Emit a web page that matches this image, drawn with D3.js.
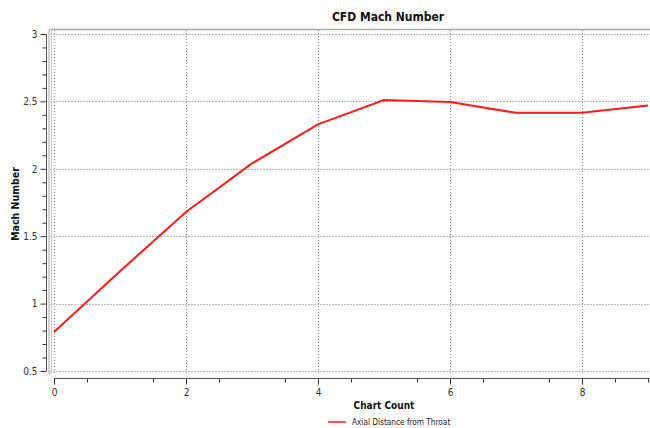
<!DOCTYPE html>
<html><head><meta charset="utf-8">
<script src="https://cdn.jsdelivr.net/npm/d3@7"></script>
<style>body{margin:0;background:#fff}svg{display:block}</style>
</head><body>
<svg id="c" width="650" height="428"></svg>
<script>
const xValues = [0, 1, 2, 3, 4, 5, 6, 7, 8, 9];
const machValues = [0.79, 1.24, 1.68, 2.04, 2.33, 2.51, 2.495, 2.415, 2.415, 2.47];
const xTicks = [0, 2, 4, 6, 8];
const yTicks = [0.5, 1, 1.5, 2, 2.5, 3];
const seriesName = "Axial Distance from Throat";
const title = "CFD Mach Number";
const xLabel = "Chart Count";
const yLabel = "Mach Number";

const svg = d3.select("#c");
const font = "Tahoma, 'DejaVu Sans Condensed', 'DejaVu Sans', sans-serif";
const x = d3.scaleLinear().domain([0, 9]).range([54, 648]);
const y = d3.scaleLinear().domain([0.5, 3]).range([371, 34]);

// plot frame
svg.append("line").attr("x1", 49).attr("x2", 650).attr("y1", 29.5).attr("y2", 29.5).attr("stroke", "#aaa").attr("stroke-width", 1.5);
svg.append("line").attr("x1", 49).attr("x2", 49).attr("y1", 29.5).attr("y2", 374).attr("stroke", "#aaa").attr("stroke-width", 1);
svg.append("line").attr("x1", 51.5).attr("x2", 51.5).attr("y1", 29.5).attr("y2", 374).attr("stroke", "#ccc").attr("stroke-width", 1);

// grid
const gy = svg.append("g");
gy.selectAll("line").data(yTicks).join("line")
  .attr("x1", 50).attr("x2", 650).attr("y1", d => Math.round(y(d)) + 0.5).attr("y2", d => Math.round(y(d)) + 0.5)
  .attr("stroke", "#bbb").attr("stroke-dasharray", "2,1");
const gx = svg.append("g");
gx.selectAll("line").data(xTicks).join("line")
  .attr("x1", d => Math.round(x(d)) + 0.5).attr("x2", d => Math.round(x(d)) + 0.5).attr("y1", 30).attr("y2", 373)
  .attr("stroke", "#888").attr("stroke-dasharray", "1,2");

// y axis
const yAxis = svg.append("g").attr("transform", "translate(46.5,0)")
  .call(d3.axisLeft(y).tickValues(yTicks).tickSize(6).tickPadding(3).tickFormat(d3.format("")));
const yMinor = svg.append("g").attr("transform", "translate(46.5,0)")
  .call(d3.axisLeft(y).tickValues(d3.range(5, 31).map(v => v / 10).filter(v => Math.abs(v * 2 - Math.round(v * 2)) > 1e-6)).tickSize(4).tickFormat(""));
yMinor.select(".domain").remove();
// x axis
const xAxis = svg.append("g").attr("transform", "translate(0,378.5)")
  .call(d3.axisBottom(x).tickValues(xTicks).tickSize(6).tickPadding(4).tickFormat(d3.format("")));
const xMinor = svg.append("g").attr("transform", "translate(0,378.5)")
  .call(d3.axisBottom(x).tickValues(d3.range(1, 18, 2).map(v => v / 2).concat([9])).tickSize(4).tickFormat(""));
xMinor.select(".domain").remove();
[yAxis, xAxis, yMinor, xMinor].forEach(g => {
  g.selectAll("line").attr("stroke", "#333");
  g.selectAll("text").attr("fill", "#333").style("font-family", font).style("font-size", "10px");
});
yAxis.select(".domain").remove();
svg.append("line").attr("x1", 46.5).attr("x2", 46.5).attr("y1", y(3)).attr("y2", y(0.5)).attr("stroke", "#555");
xAxis.select(".domain").remove();
svg.append("line").attr("x1", x(0)).attr("x2", 650).attr("y1", 378.5).attr("y2", 378.5).attr("stroke", "#555");

// series
const line = d3.line().x((d, i) => x(xValues[i])).y(d => y(d));
svg.append("path").datum(machValues).attr("d", line).attr("fill", "none").attr("stroke", "#ff1a1a").attr("stroke-width", 2);

// texts
svg.append("text").attr("x", 388).attr("y", 21).attr("text-anchor", "middle").style("font-family", font)
  .style("font-size", "12px").style("font-weight", "bold").attr("fill", "#111").text(title);
svg.append("text").attr("x", 384).attr("y", 409).attr("text-anchor", "middle").style("font-family", font)
  .style("font-size", "10px").style("font-weight", "bold").attr("fill", "#111").text(xLabel);
svg.append("text").attr("transform", "translate(19,204) rotate(-90)").attr("text-anchor", "middle").style("font-family", font)
  .style("font-size", "10.5px").style("font-weight", "bold").attr("fill", "#111").text(yLabel);
svg.append("line").attr("x1", 328).attr("x2", 346).attr("y1", 422).attr("y2", 422).attr("stroke", "#ff1a1a").attr("stroke-width", 1.5);
svg.append("text").attr("x", 352).attr("y", 425).style("font-family", font)
  .style("font-size", "8.2px").attr("fill", "#222").text(seriesName);
</script>
</body></html>
